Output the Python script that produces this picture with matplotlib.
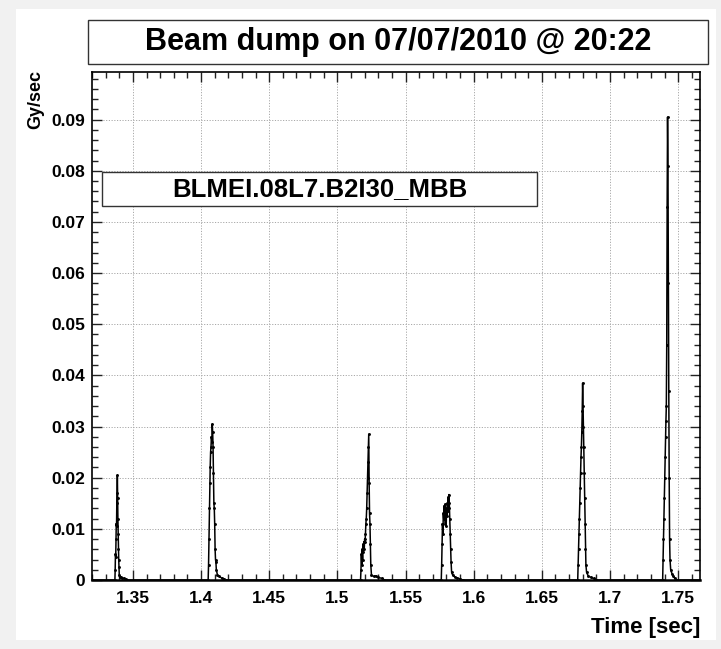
import matplotlib
matplotlib.use('Agg')
import matplotlib.pyplot as plt
from matplotlib.patches import Rectangle
from matplotlib.ticker import MultipleLocator, FixedLocator, FixedFormatter

plt.rcParams['font.family'] = ['Liberation Sans', 'DejaVu Sans']
plt.rcParams['font.weight'] = 'bold'

# ---------------- text ----------------
title = "Beam dump on 07/07/2010 @ 20:22"
monitor = "BLMEI.08L7.B2I30_MBB"
x_label = "Time [sec]"
y_label = "Gy/sec"

x_ticks = [1.35, 1.4, 1.45, 1.5, 1.55, 1.6, 1.65, 1.7, 1.75]
x_tick_labels = ["1.35", "1.4", "1.45", "1.5", "1.55", "1.6", "1.65", "1.7", "1.75"]
y_ticks = [0, 0.01, 0.02, 0.03, 0.04, 0.05, 0.06, 0.07, 0.08, 0.09]
y_tick_labels = ["0", "0.01", "0.02", "0.03", "0.04", "0.05", "0.06", "0.07", "0.08", "0.09"]
x_range = [1.320, 1.766]
y_range = [0, 0.0993]

# ---------------- data ----------------
start_t = [1.3200]
start_v = [0.0]

burst1_t = [1.3368, 1.3370, 1.3372, 1.3374, 1.3376, 1.3378, 1.3380, 1.3382, 1.3384,
            1.3386, 1.3388, 1.3390, 1.3392, 1.3394, 1.3396, 1.3398, 1.3400, 1.3403,
            1.3410, 1.3420, 1.3435, 1.3450, 1.3460]
burst1_v = [0.0, 0.002, 0.005, 0.0045, 0.008, 0.011, 0.0105, 0.015, 0.017,
            0.0205, 0.016, 0.012, 0.009, 0.006, 0.004, 0.0025, 0.001, 0.0006,
            0.0005, 0.0004, 0.0003, 0.0001, 0.0]

burst2_t = [1.4052, 1.4055, 1.4058, 1.4061, 1.4064, 1.4067, 1.4070, 1.4073, 1.4076,
            1.4079, 1.4082, 1.4085, 1.4088, 1.4091, 1.4094, 1.4097, 1.4100, 1.4103,
            1.4106, 1.4109, 1.4112, 1.4120, 1.4135, 1.4150, 1.4170, 1.4182]
burst2_v = [0.0, 0.003, 0.008, 0.014, 0.019, 0.022, 0.025, 0.026, 0.028,
            0.027, 0.0305, 0.029, 0.026, 0.021, 0.015, 0.014, 0.011, 0.006,
            0.004, 0.0035, 0.002, 0.001, 0.0007, 0.0004, 0.0002, 0.0]

burst3_t = [1.5170, 1.5173, 1.5176, 1.5179, 1.5182, 1.5185, 1.5188, 1.5191, 1.5194,
            1.5197, 1.5200, 1.5203, 1.5206, 1.5209, 1.5212, 1.5215, 1.5218, 1.5221,
            1.5224, 1.5227, 1.5230, 1.5233, 1.5236, 1.5239, 1.5242, 1.5245, 1.5250,
            1.5265, 1.5280, 1.5300, 1.5330, 1.5345]
burst3_v = [0.0, 0.002, 0.005, 0.003, 0.006, 0.004, 0.007, 0.0055, 0.0075,
            0.006, 0.008, 0.0075, 0.009, 0.011, 0.012, 0.014, 0.017, 0.020,
            0.023, 0.026, 0.0285, 0.019, 0.013, 0.011, 0.007, 0.003, 0.001,
            0.0007, 0.0008, 0.0005, 0.0003, 0.0]

burst4_t = [1.5762, 1.5765, 1.5768, 1.5771, 1.5774, 1.5777, 1.5780, 1.5783, 1.5786,
            1.5789, 1.5792, 1.5795, 1.5798, 1.5801, 1.5804, 1.5807, 1.5810, 1.5813,
            1.5816, 1.5819, 1.5822, 1.5825, 1.5828, 1.5831, 1.5834, 1.5838, 1.5845,
            1.5860, 1.5880, 1.5900, 1.5920]
burst4_v = [0.0, 0.003, 0.007, 0.011, 0.009, 0.013, 0.012, 0.0145, 0.0125,
            0.0148, 0.011, 0.013, 0.0105, 0.014, 0.0125, 0.015, 0.0135, 0.0162,
            0.015, 0.0167, 0.014, 0.012, 0.009, 0.006, 0.0035, 0.0015, 0.001,
            0.0006, 0.0004, 0.0002, 0.0]

burst5_t = [1.6763, 1.6766, 1.6769, 1.6772, 1.6775, 1.6778, 1.6781, 1.6784, 1.6787,
            1.6790, 1.6793, 1.6796, 1.6799, 1.6802, 1.6805, 1.6808, 1.6811, 1.6814,
            1.6817, 1.6820, 1.6823, 1.6828, 1.6840, 1.6860, 1.6880, 1.6900]
burst5_v = [0.0, 0.003, 0.006, 0.009, 0.012, 0.015, 0.018, 0.021, 0.024,
            0.026, 0.029, 0.033, 0.0385, 0.034, 0.030, 0.026, 0.021, 0.016,
            0.011, 0.006, 0.003, 0.0015, 0.0008, 0.0005, 0.0003, 0.0]

burst6_t = [1.7386, 1.7389, 1.7392, 1.7395, 1.7398, 1.7401, 1.7404, 1.7407, 1.7410,
            1.7413, 1.7416, 1.7419, 1.7422, 1.7425, 1.7428, 1.7431, 1.7434, 1.7437,
            1.7440, 1.7445, 1.7455, 1.7465, 1.7475, 1.7485]
burst6_v = [0.0, 0.004, 0.008, 0.012, 0.016, 0.020, 0.024, 0.028, 0.031,
            0.034, 0.046, 0.073, 0.0905, 0.081, 0.058, 0.037, 0.020, 0.008,
            0.004, 0.002, 0.0012, 0.0008, 0.0003, 0.0]

end_t = [1.7660]
end_v = [0.0]

times = start_t + burst1_t + burst2_t + burst3_t + burst4_t + burst5_t + burst6_t + end_t
values = start_v + burst1_v + burst2_v + burst3_v + burst4_v + burst5_v + burst6_v + end_v

# ---------------- figure ----------------
W, H = 721, 649
fig = plt.figure(figsize=(W / 100, H / 100), dpi=100)
fig.patch.set_facecolor('#f1f1f1')
fig.patches.append(Rectangle((16 / W, 1 - 640 / H), (716 - 16) / W, (640 - 9) / H,
                             transform=fig.transFigure, facecolor='white',
                             edgecolor='none', zorder=-5))

ax = fig.add_axes([92 / W, 1 - 580 / H, (700 - 92) / W, (580 - 72) / H])
ax.set_facecolor('white')

ax.plot(times, values, color='black', linewidth=1.1, marker='.', markersize=4.2,
        markeredgewidth=0, zorder=3, clip_on=True)

ax.set_xlim(*x_range)
ax.set_ylim(*y_range)

ax.xaxis.set_major_locator(FixedLocator(x_ticks))
ax.xaxis.set_major_formatter(FixedFormatter(x_tick_labels))
ax.yaxis.set_major_locator(FixedLocator(y_ticks))
ax.yaxis.set_major_formatter(FixedFormatter(y_tick_labels))
ax.xaxis.set_minor_locator(MultipleLocator(0.01))
ax.yaxis.set_minor_locator(MultipleLocator(0.002))

ax.tick_params(which='both', direction='in', top=True, right=True,
               labeltop=False, labelright=False, color='#222222', width=1.0)
ax.tick_params(which='major', length=7)
ax.tick_params(which='minor', length=4)
ax.tick_params(axis='x', which='major', pad=8, labelsize=12.5)
ax.tick_params(axis='y', which='major', pad=5, labelsize=12.5)
for lab in ax.get_xticklabels() + ax.get_yticklabels():
    lab.set_fontweight('bold')

ax.grid(True, which='major', color='#a8a8a8', linestyle=(0, (1.2, 1.6)), linewidth=0.7)
ax.set_axisbelow(True)

for s in ax.spines.values():
    s.set_color('black')
    s.set_linewidth(1.2)
ax.spines['bottom'].set_linewidth(1.8)

# axis titles
fig.text(700 / W, 1 - 628 / H, x_label, ha='right', va='center',
         fontsize=16, fontweight='bold')
fig.text(36 / W, 1 - 70 / H, y_label, ha='center', va='top', rotation=90,
         fontsize=13, fontweight='bold')

# title box
fig.patches.append(Rectangle((88 / W, 1 - 64 / H), (708 - 88) / W, (64 - 20) / H,
                             transform=fig.transFigure, facecolor='white',
                             edgecolor='#333333', linewidth=1.0, zorder=1))
fig.text(398 / W, 1 - 42 / H, title, ha='center', va='center',
         fontsize=22, fontweight='bold', zorder=2)

# monitor label box
fig.patches.append(Rectangle((102 / W, 1 - 206 / H), (537 - 102) / W, (206 - 172) / H,
                             transform=fig.transFigure, facecolor='white',
                             edgecolor='#333333', linewidth=1.0, zorder=4))
fig.text(320 / W, 1 - 189 / H, monitor, ha='center', va='center',
         fontsize=18.5, fontweight='bold', zorder=5)

fig.savefig('out.png', dpi=100, facecolor=fig.get_facecolor())
